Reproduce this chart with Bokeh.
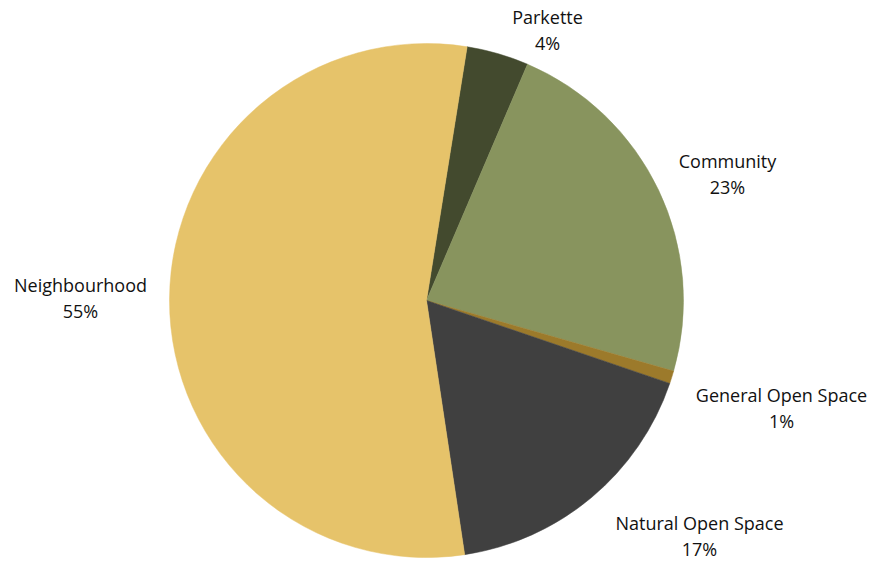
import numpy as np
from bokeh.plotting import figure
from bokeh.models import Range1d, ColumnDataSource
from bokeh.core.properties import value
from bokeh.embed import file_html
from bokeh.resources import INLINE

# ---- data ----
categories = ["Parkette", "Community", "General Open Space", "Natural Open Space", "Neighbourhood"]
shares = [3.9, 23.0, 0.8, 17.4, 54.9]
colors = ["#434A2E", "#88945E", "#9C7A2B", "#404040", "#E6C36A"]

# ---- layout (picture pixels) ----
W, H = 869, 559
CX, CY, R = 426, 300, 257
FIRST_SLICE_DEG = 9.1
label_x = [547, 727, 781, 699, 80]
label_base = [24, 168, 402.5, 530, 292.5]
LINE_GAP = 26
TEXT_SHIFT = -8

def py(y):
    return H - y

p = figure(width=W, height=H, output_backend="svg", toolbar_location=None,
           x_range=Range1d(0, W), y_range=Range1d(0, H), min_border=0,
           x_axis_location=None, y_axis_location=None, outline_line_color=None,
           background_fill_color="white", border_fill_color="white")
p.grid.visible = False

vals = np.array(shares, dtype=float)
frac = vals / vals.sum()
cum = np.concatenate([[0], np.cumsum(frac)])
start_clock = np.radians(FIRST_SLICE_DEG) + cum[:-1] * 2 * np.pi
end_clock = np.radians(FIRST_SLICE_DEG) + cum[1:] * 2 * np.pi

src = ColumnDataSource(dict(
    x=[CX] * len(vals), y=[py(CY)] * len(vals),
    start=(np.pi / 2 - start_clock).tolist(),
    end=(np.pi / 2 - end_clock).tolist(),
    color=colors,
))
p.wedge(x="x", y="y", radius=R, start_angle="start", end_angle="end",
        direction="clock", fill_color="color", line_color="color", line_width=0.5, source=src)

pct = [f"{int(round(v))}%" for v in vals]
lsrc = ColumnDataSource(dict(
    x=label_x,
    yn=[py(b + TEXT_SHIFT) for b in label_base],
    yp=[py(b + LINE_GAP + TEXT_SHIFT) for b in label_base],
    name=categories, pct=pct,
))
common = dict(text_font=value("Open Sans"), text_font_size="18px", text_color="#111111",
              text_align="center", text_baseline="alphabetic", source=lsrc)
p.text(x="x", y="yn", text="name", **common)
p.text(x="x", y="yp", text="pct", **common)

open("out.html", "w").write(file_html(p, INLINE))
